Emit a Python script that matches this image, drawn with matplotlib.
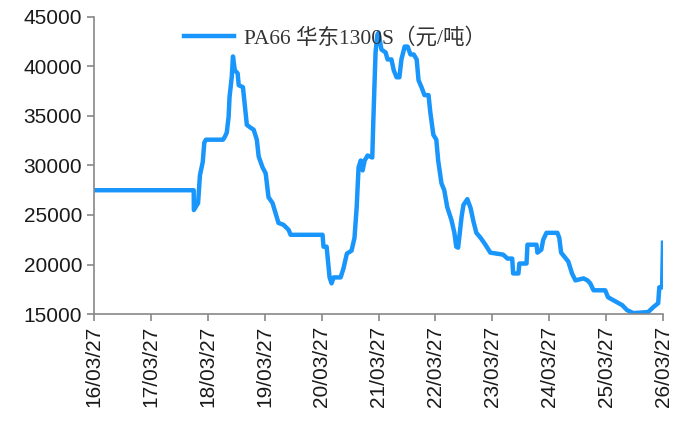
## PA66 华东1300S price chart
import matplotlib.pyplot as plt
import matplotlib.dates as mdates
import pandas as pd

plt.rcParams['font.family'] = ['Liberation Sans', 'Noto Sans CJK SC', 'DejaVu Sans']

# price points (元/吨)
dates = ['2016-03-27', '2017-12-27', '2017-12-28', '2018-01-24', '2018-02-05', '2018-02-23',
         '2018-03-05', '2018-03-15', '2018-07-03', '2018-07-15', '2018-07-27', '2018-08-08',
         '2018-08-14', '2018-08-28', '2018-09-05', '2018-09-17', '2018-10-05', '2018-10-12',
         '2018-11-08', '2018-11-20', '2018-12-03', '2018-12-28', '2019-01-16', '2019-02-05',
         '2019-02-17', '2019-03-14', '2019-04-03', '2019-04-21', '2019-05-17', '2019-06-05',
         '2019-06-24', '2019-07-27', '2019-08-28', '2019-09-10', '2020-04-02', '2020-04-08',
         '2020-04-28', '2020-05-17', '2020-05-30', '2020-06-12', '2020-07-27', '2020-08-14',
         '2020-09-05', '2020-10-05', '2020-10-24', '2020-11-07', '2020-11-19', '2020-12-03',
         '2020-12-15', '2020-12-28', '2021-01-16', '2021-02-15', '2021-02-22', '2021-03-08',
         '2021-03-20', '2021-03-27', '2021-04-15', '2021-05-12', '2021-05-24', '2021-06-18',
         '2021-07-03', '2021-07-21', '2021-08-08', '2021-08-21', '2021-09-11', '2021-09-30',
         '2021-10-18', '2021-11-08', '2021-11-27', '2021-12-09', '2021-12-28', '2022-01-16',
         '2022-02-11', '2022-02-23', '2022-03-14', '2022-04-02', '2022-04-14', '2022-05-05',
         '2022-05-23', '2022-06-11', '2022-07-08', '2022-07-27', '2022-08-08', '2022-08-20',
         '2022-09-11', '2022-09-23', '2022-10-18', '2022-11-08', '2022-11-27', '2022-12-15',
         '2023-01-11', '2023-02-11', '2023-03-15', '2023-06-05', '2023-07-03', '2023-08-02',
         '2023-08-08', '2023-09-11', '2023-09-17', '2023-11-02', '2023-11-08', '2024-01-05',
         '2024-01-11', '2024-02-05', '2024-02-17', '2024-03-09', '2024-05-18', '2024-05-30',
         '2024-06-11', '2024-07-27', '2024-08-20', '2024-09-11', '2024-11-02', '2024-11-27',
         '2024-12-15', '2025-01-05', '2025-03-21', '2025-04-08', '2025-05-24', '2025-07-08',
         '2025-08-08', '2025-09-17', '2025-12-21', '2026-01-24', '2026-02-24', '2026-03-03',
         '2026-03-21', '2026-03-27']
prices = [27500, 27500, 25500, 26200, 29000, 30350,
          32300, 32600, 32600, 32900, 33300, 34900,
          36900, 38900, 41000, 39600, 39300, 38100,
          37900, 36100, 34100, 33800, 33600, 32600,
          30900, 29800, 29200, 26800, 26200, 25200,
          24200, 24000, 23500, 23000, 23000, 21800,
          21800, 18700, 18100, 18700, 18700, 19600,
          21100, 21400, 22700, 25800, 29800, 30500,
          29500, 30500, 31000, 30800, 34600, 41400,
          43200, 43400, 41700, 41400, 40700, 40700,
          39600, 38900, 38900, 40700, 42000, 42000,
          41200, 41200, 40700, 38600, 37900, 37100,
          37100, 35300, 33100, 32600, 30500, 28200,
          27500, 25800, 24500, 23200, 21800, 21700,
          24800, 26000, 26600, 25700, 24300, 23200,
          22700, 22000, 21200, 21000, 20600, 20600,
          19100, 19100, 20100, 20100, 22000, 22000,
          21200, 21500, 22500, 23200, 23200, 22700,
          21200, 20300, 19100, 18400, 18600, 18400,
          18100, 17400, 17400, 16700, 16300, 15900,
          15400, 15100, 15200, 15700, 16100, 17700,
          17700, 22200]

tick_dates = ['2016-03-27', '2017-03-27', '2018-03-27', '2019-03-27', '2020-03-27', '2021-03-27',
              '2022-03-27', '2023-03-27', '2024-03-27', '2025-03-27', '2026-03-27']

x = pd.to_datetime(dates)
ticks = pd.to_datetime(tick_dates)

fig = plt.figure(figsize=(6.86, 4.21), dpi=100)
ax = fig.add_axes([0.137, 0.254, 0.8295, 0.706])

ax.plot(x, prices, color='#1996fb', linewidth=3.2, solid_joinstyle='round',
        label='PA66 华东1300S（元/吨）', zorder=1)

ax.set_xlim(ticks[0], ticks[-1])
ax.set_ylim(15000, 45000)
ax.set_yticks(range(15000, 45001, 5000))
ax.set_xticks(ticks)
ax.xaxis.set_major_formatter(mdates.DateFormatter('%y/%m/%d'))
ax.tick_params(axis='x', rotation=90)
ax.tick_params(labelsize=15, labelcolor='#1a1a1a', color='#888888', length=5, width=1.2)

for s in ['top', 'right']:
    ax.spines[s].set_visible(False)
for s in ['left', 'bottom']:
    ax.spines[s].set_color('#888888')
    ax.spines[s].set_linewidth(1.2)

leg = ax.legend(loc='upper left', bbox_to_anchor=(0.125, 1.028), frameon=False,
                handlelength=2.3, handletextpad=0.45,
                prop={'family': ['Liberation Serif', 'Noto Sans CJK SC'], 'size': 15.5})
leg.set_zorder(3)
for t in leg.get_texts():
    t.set_color('#333333')

fig.savefig('out.png', dpi=100)
